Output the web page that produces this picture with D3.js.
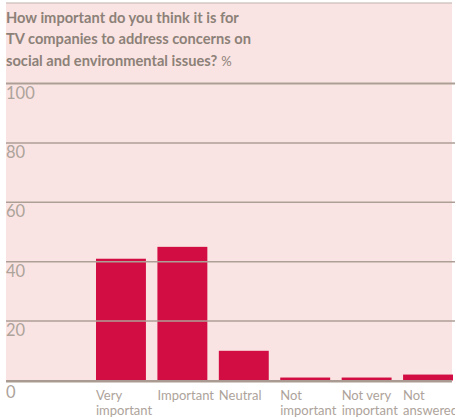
<!DOCTYPE html>
<html>
<head>
<meta charset="utf-8">
<script src="https://cdn.jsdelivr.net/npm/d3@7"></script>
<style>
  html, body { margin: 0; padding: 0; background: #ffffff; }
  svg { display: block; }
</style>
</head>
<body>
<svg id="chart" width="455" height="419"></svg>
<script>
const titleLines = ["How important do you think it is for", "TV companies to address concerns on", "social and environmental issues?"];
const unitLabel = "%";
const categories = ["Very important", "Important", "Neutral", "Not important", "Not very important", "Not answered"];
const categoryLines = [["Very", "important"], ["Important"], ["Neutral"], ["Not", "important"], ["Not very", "important"], ["Not", "answered"]];
const values = [41, 45, 10, 1, 1, 2];
const yTicks = [0, 20, 40, 60, 80, 100];

const svg = d3.select("#chart");
const W = 455, H = 419;
const left = 6, right = 452;

const pink = "#fae4e3";
const barColor = "#d20d43";
const titleColor = "#8c8178";
const tickColor = "#ada39b";
const lineColor = "#ae9f96";
const FONT = "Lato, 'Open Sans', sans-serif";

const y = d3.scaleLinear().domain([0, 100]).range([380.5, 83.5]);
const x = d3.scaleBand().domain(categories).range([96, 453]).paddingInner(11.5 / 61.5).paddingOuter(0);

// background panel
svg.append("rect").attr("x", left).attr("y", 3).attr("width", right - left).attr("height", y(0) - 3).attr("fill", pink);
// top thin rule
svg.append("line").attr("x1", left).attr("x2", right).attr("y1", 3).attr("y2", 3)
  .attr("stroke", "#bdb1a9").attr("stroke-width", 1.2);

// title
let titleSize = 16;
const title = svg.append("text").attr("font-family", FONT).attr("font-weight", 700)
  .attr("font-size", titleSize).attr("fill", titleColor);
titleLines.forEach((t, i) => {
  title.append("tspan").attr("x", left).attr("y", 22.7 + i * 21.7).text(t);
});
const firstW = title.select("tspan").node().getComputedTextLength();
titleSize = titleSize * 233 / firstW;
title.attr("font-size", titleSize);
const lastTs = title.selectAll("tspan").nodes()[2];
svg.append("text").attr("x", left + lastTs.getComputedTextLength() + 4).attr("y", 22.7 + 2 * 21.7)
  .attr("font-family", FONT).attr("font-size", 13).attr("fill", titleColor).text(unitLabel);

// bars
svg.append("g").selectAll("rect").data(values).join("rect")
  .attr("x", (d, i) => x(categories[i]))
  .attr("width", x.bandwidth())
  .attr("y", d => y(d))
  .attr("height", d => y(0) - y(d))
  .attr("fill", barColor);

// gridlines (over bars)
svg.append("g").selectAll("line").data(yTicks.filter(v => v > 0)).join("line")
  .attr("x1", left).attr("x2", W)
  .attr("y1", d => y(d)).attr("y2", d => y(d))
  .attr("stroke", lineColor)
  .attr("stroke-width", d => d === 100 ? 2 : 1.5);

// baseline
svg.append("line").attr("x1", left).attr("x2", right).attr("y1", y(0) + 0.8).attr("y2", y(0) + 0.8)
  .attr("stroke", "#a99b92").attr("stroke-width", 2.5);

// tick labels
svg.append("g").selectAll("text").data(yTicks).join("text")
  .attr("x", left)
  .attr("y", d => d === 0 ? y(0) + 17.8 : y(d) + 15)
  .attr("font-family", FONT).attr("font-weight", 400)
  .attr("font-size", 16.5).attr("fill", tickColor)
  .text(d => d);

// category labels
categoryLines.forEach((lines, i) => {
  lines.forEach((ln, j) => {
    svg.append("text").attr("x", x(categories[i])).attr("y", 400 + j * 15)
      .attr("font-family", FONT).attr("font-size", 13).attr("fill", tickColor).text(ln);
  });
});
</script>
</body>
</html>
